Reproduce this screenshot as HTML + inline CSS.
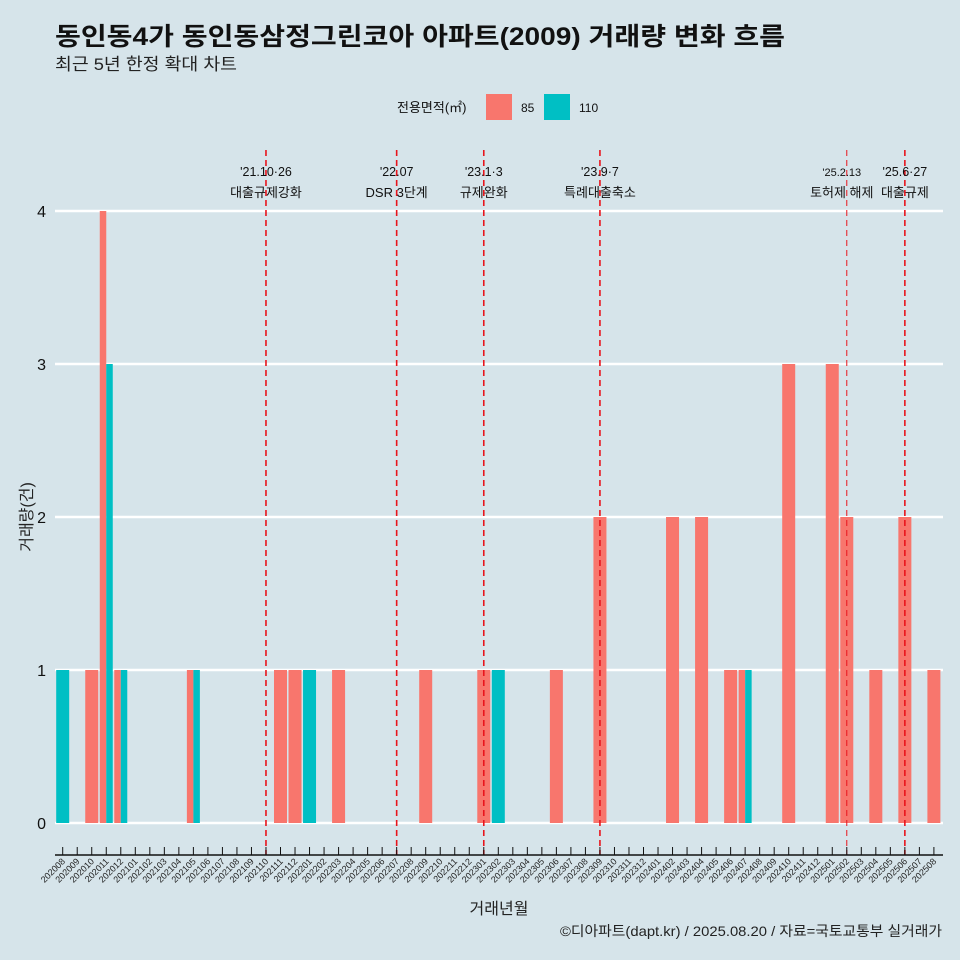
<!DOCTYPE html>
<html><head><meta charset="utf-8"><style>
body{margin:0;background:#d6e4ea;}
svg{display:block;font-family:"Liberation Sans","Noto Sans CJK KR",sans-serif;}
</style></head><body>
<svg id="c" width="960" height="960" viewBox="0 0 960 960">
<rect width="960" height="960" fill="#d6e4ea"/>
<text x="55" y="45" font-size="25" font-weight="bold" fill="#111" textLength="730" lengthAdjust="spacingAndGlyphs">동인동4가 동인동삼정그린코아 아파트(2009) 거래량 변화 흐름</text>
<text x="55" y="70" font-size="17" fill="#222" textLength="182" lengthAdjust="spacingAndGlyphs">최근 5년 한정 확대 차트</text>
<g>
<text x="397" y="112" font-size="13" fill="#111">전용면적(㎡)</text>
<rect x="486" y="94" width="26" height="26" fill="#f8766d"/>
<text x="521" y="112" font-size="12" fill="#111">85</text>
<rect x="544" y="94" width="26" height="26" fill="#00bfc4"/>
<text x="579" y="112" font-size="12" fill="#111">110</text>
</g>
<g id="grid"></g><g id="bars"></g><g id="events"></g><g id="xaxis"></g>
<text x="32" y="517" font-size="16" fill="#222" transform="rotate(-90 32 517)" text-anchor="middle">거래량(건)</text>
<text x="499" y="914" font-size="16" fill="#222" text-anchor="middle">거래년월</text>
<text x="942" y="936" font-size="14" fill="#222" text-anchor="end" textLength="382" lengthAdjust="spacingAndGlyphs">©디아파트(dapt.kr) / 2025.08.20 / 자료=국토교통부 실거래가</text>
</svg>
<script>
const months=[];for(let y=2020,m=8;!(y===2025&&m===9);){months.push(y+String(m).padStart(2,'0'));m++;if(m>12){m=1;y++;}}
const s85={"202010":1,"202011":4,"202012":1,"202105":1,"202111":1,"202112":1,"202203":1,"202209":1,"202301":1,"202306":1,"202309":2,"202402":2,"202404":2,"202406":1,"202407":1,"202410":3,"202501":3,"202502":2,"202504":1,"202506":2,"202508":1};
const s110={"202008":1,"202011":3,"202012":1,"202105":1,"202201":1,"202302":1,"202407":1};
const yTicks=[0,1,2,3,4];
const events=[["202110","'21.10·26","대출규제강화"],["202207","'22.07","DSR 3단계"],["202301","'23.1·3","규제완화"],["202309","'23.9·7","특례대출축소"],["202502","'25.2.13","토허제 해제"],["202506","'25.6·27","대출규제"]];
const NS="http://www.w3.org/2000/svg";
const xs=i=>62.7+i*14.52, ys=v=>823-v*153;
function mk(p,t,a){const e=document.createElementNS(NS,t);for(const k in a)e.setAttribute(k,a[k]);document.getElementById(p).appendChild(e);return e;}
yTicks.forEach(v=>{
 const l=mk('grid','line',{x1:55,x2:943,y1:ys(v),y2:ys(v),stroke:'#fff','stroke-width':2.5});
 
 
 const t=mk('grid','text',{x:46,y:ys(v)+6,'font-size':16,fill:'#111','text-anchor':'end'});t.textContent=v;
 
 
});
const W=13;
months.forEach((m,i)=>{
 const a=s85[m]||0,b=s110[m]||0,c=xs(i);
 const list=[];if(a)list.push([a,'#f8766d','85']);if(b)list.push([b,'#00bfc4','110']);
 const w=W/list.length;
 list.forEach((d,j)=>{
  const r=mk('bars','rect',{x:c-W/2+j*w,y:ys(d[0]),width:w,height:ys(0)-ys(d[0]),fill:d[1]});
  
  
 });
});
events.forEach(e=>{
 const i=months.indexOf(e[0]),x=xs(i),thin=e[0]==='202502';
 const l=mk('events','line',{x1:x,x2:x,y1:150,y2:855,stroke:'#e8141c','stroke-width':thin?1:1.6,'stroke-dasharray':'6,4'});
 
 
 const dx=e[0]==='202502'?-5:0;
 const t1=mk('events','text',{x:x+dx,y:176,'font-size':thin?11:12.5,fill:'#111','text-anchor':'middle'});t1.textContent=e[1];
 
 
 const t2=mk('events','text',{x:x+dx,y:197,'font-size':13,fill:'#111','text-anchor':'middle'});t2.textContent=e[2];
 
 
});
const ax=mk('xaxis','line',{x1:55,x2:943,y1:855,y2:855,stroke:'#111','stroke-width':1.5});


months.forEach((m,i)=>{
 const x=xs(i);
 const t=mk('xaxis','line',{x1:x,x2:x,y1:847,y2:855,stroke:'#111','stroke-width':1});
 
 
 const l=mk('xaxis','text',{x:x+3,y:862,'font-size':9,fill:'#222','text-anchor':'end',transform:`rotate(-45 ${x+3} 862)`});l.textContent=m;
 
 
});
</script>
</body></html>
